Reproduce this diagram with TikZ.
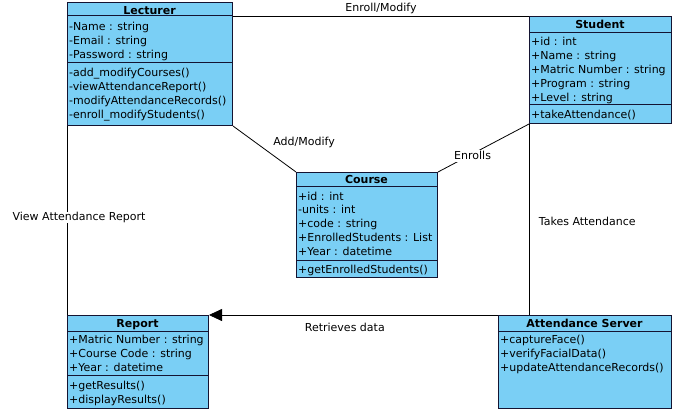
\documentclass[tikz,border=0pt]{standalone}
\usepackage{fontspec}
\setmainfont{DejaVu Sans}
\usetikzlibrary{arrows.meta}
\definecolor{classfill}{RGB}{122,207,245}
\definecolor{classline}{RGB}{20,20,50}
\begin{document}
\begin{tikzpicture}[x=1pt,y=-1pt,
  classbox/.style={draw=classline, fill=classfill, line width=1pt, inner sep=0, anchor=north west},
  ctitle/.style={font=\fontsize{11}{13}\selectfont\bfseries, inner sep=0, anchor=base},
  crow/.style={font=\fontsize{11}{13}\selectfont, inner sep=0, anchor=base west},
  csep/.style={draw=classline, line width=1pt},
  conn/.style={draw=black, line width=0.8pt},
  lbl/.style={font=\fontsize{11}{13}\selectfont, inner sep=1.5pt}]
\useasboundingbox (0,0) rectangle (673,413);

% ---------- Lecturer ----------
\node[classbox, minimum width=165pt, minimum height=123pt] (lect) at (67,2) {};
\node[ctitle] (lect-t) at (149.5,14) {Lecturer};
\draw[csep] (lect.west |- 0,15) -- (lect.east |- 0,15);
\draw[csep] (lect.west |- 0,62) -- (lect.east |- 0,62);
\node[crow] (lect-a1) at (69,30) {-Name : string};
\node[crow] (lect-a2) at (69,44) {-Email : string};
\node[crow] (lect-a3) at (69,58) {-Password : string};
\node[crow] (lect-o1) at (69,76) {-add\_modifyCourses()};
\node[crow] (lect-o2) at (69,90) {-viewAttendanceReport()};
\node[crow] (lect-o3) at (69,104) {-modifyAttendanceRecords()};
\node[crow] (lect-o4) at (69,118) {-enroll\_modifyStudents()};

% ---------- Student ----------
\node[classbox, minimum width=142pt, minimum height=107pt] (stud) at (529,16) {};
\node[ctitle] (stud-t) at (600,28) {Student};
\draw[csep] (stud.west |- 0,32) -- (stud.east |- 0,32);
\draw[csep] (stud.west |- 0,104) -- (stud.east |- 0,104);
\node[crow] (stud-a1) at (531,45) {+id : int};
\node[crow] (stud-a2) at (531,59) {+Name : string};
\node[crow] (stud-a3) at (531,73) {+Matric Number : string};
\node[crow] (stud-a4) at (531,87) {+Program : string};
\node[crow] (stud-a5) at (531,101) {+Level : string};
\node[crow] (stud-o1) at (531,118) {+takeAttendance()};

% ---------- Course ----------
\node[classbox, minimum width=141pt, minimum height=105pt] (course) at (296,172) {};
\node[ctitle] (course-t) at (366.5,183) {Course};
\draw[csep] (course.west |- 0,186) -- (course.east |- 0,186);
\draw[csep] (course.west |- 0,260) -- (course.east |- 0,260);
\node[crow] (course-a1) at (298,200) {+id : int};
\node[crow] (course-a2) at (298,213) {-units : int};
\node[crow] (course-a3) at (298,227) {+code : string};
\node[crow] (course-a4) at (298,241) {+EnrolledStudents : List};
\node[crow] (course-a5) at (298,255) {+Year : datetime};
\node[crow] (course-o1) at (298,273) {+getEnrolledStudents()};

% ---------- Report ----------
\node[classbox, minimum width=141pt, minimum height=93pt] (rep) at (67,315) {};
\node[ctitle] (rep-t) at (137.5,327) {Report};
\draw[csep] (rep.west |- 0,331) -- (rep.east |- 0,331);
\draw[csep] (rep.west |- 0,375) -- (rep.east |- 0,375);
\node[crow] (rep-a1) at (69,343) {+Matric Number : string};
\node[crow] (rep-a2) at (69,357) {+Course Code : string};
\node[crow] (rep-a3) at (69,371) {+Year : datetime};
\node[crow] (rep-o1) at (69,389) {+getResults()};
\node[crow] (rep-o2) at (69,403) {+displayResults()};

% ---------- Attendance Server ----------
\node[classbox, minimum width=173pt, minimum height=93pt] (as) at (498,315) {};
\node[ctitle] (as-t) at (584.5,327) {Attendance Server};
\draw[csep] (as.west |- 0,331) -- (as.east |- 0,331);
\node[crow] (as-o1) at (500,343) {+captureFace()};
\node[crow] (as-o2) at (500,357) {+verifyFacialData()};
\node[crow] (as-o3) at (500,371) {+updateAttendanceRecords()};

% ---------- Connectors ----------
\draw[conn] (stud.north west) -- (stud.north west -| lect.east)
  node[lbl, midway, above, yshift=0.5pt] (l-enroll) {Enroll/Modify};
\draw[conn] (lect.south east) -- (course.north west)
  node[lbl, pos=0.5, anchor=west, xshift=7pt, yshift=7pt] (l-add) {Add/Modify};
\draw[conn] (stud.south west) -- (course.north east)
  node[lbl, fill=white, pos=0.62, yshift=-2pt, inner sep=2pt] (l-enrolls) {Enrolls};
\draw[conn] (lect.south west) -- (rep.north west)
  node[lbl, fill=white, pos=0.484, xshift=12pt, inner sep=0.5pt] (l-view) {View Attendance Report};
\draw[conn] (stud.south west) -- (stud.south west |- as.north)
  node[lbl, pos=0.51, anchor=west, xshift=8pt] (l-takes) {Takes Attendance};
\draw[conn, -{Triangle[length=13pt,width=12pt]}] (as.north west) -- (rep.north east)
  node[lbl, pos=0.53, anchor=north, yshift=-6pt] (l-retr) {Retrieves data};
\end{tikzpicture}
\end{document}
